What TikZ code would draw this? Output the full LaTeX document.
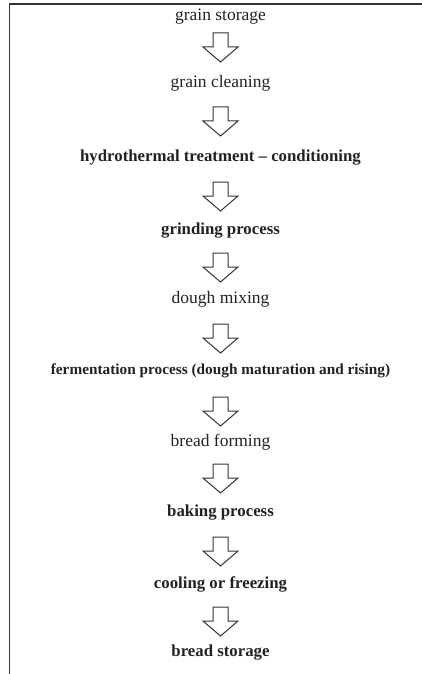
\documentclass[tikz,border=0pt]{standalone}
\usepackage{fontspec}
\setmainfont{Liberation Serif}
\definecolor{ink}{HTML}{222222}
\definecolor{edge}{HTML}{333333}
\tikzset{
  lbl/.style={anchor=base, inner sep=0pt, text=ink, font=\fontsize{17.5}{20}\selectfont},
  blbl/.style={anchor=base, inner sep=0pt, text=ink, font=\fontsize{16.8}{20}\selectfont\bfseries},
  arrowline/.style={draw=edge, line width=1pt, line join=miter},
  darrow/.pic={\draw[arrowline] (-7.5,0) -- (-7.5,-14) -- (-17.5,-14) -- (0,-29) -- (17.5,-14) -- (7.5,-14) -- (7.5,0) -- cycle;}
}
\begin{document}
\begin{tikzpicture}[x=1pt,y=1pt]
\useasboundingbox (0,0) rectangle (422,-674);
\draw[edge, line width=1.2pt] (422,-4) -- (9.5,-4) -- (9.5,-674);
\node[lbl]  (n1) at (220.5,-21)  {grain storage};
\node[lbl]  (n2) at (220.5,-88)  {grain cleaning};
\node[blbl] (n3) at (220.5,-161) {hydrothermal treatment -- conditioning};
\node[blbl] (n4) at (220.5,-234) {grinding process};
\node[lbl]  (n5) at (220.5,-303) {dough mixing};
\node[blbl, font=\fontsize{15.3}{18}\selectfont\bfseries] (n6) at (220.5,-374) {fermentation process (dough maturation and rising)};
\node[lbl]  (n7) at (220.5,-446) {bread forming};
\node[blbl] (n8) at (220.5,-516) {baking process};
\node[blbl] (n9) at (220.5,-588) {cooling or freezing};
\node[blbl] (n10) at (220.5,-656) {bread storage};
\pic at (220.5,-33)  {darrow};
\pic at (220.5,-107) {darrow};
\pic at (220.5,-182) {darrow};
\pic at (220.5,-253) {darrow};
\pic at (220.5,-324) {darrow};
\pic at (220.5,-397) {darrow};
\pic at (220.5,-464) {darrow};
\pic at (220.5,-537) {darrow};
\pic at (220.5,-607) {darrow};
\end{tikzpicture}
\end{document}
